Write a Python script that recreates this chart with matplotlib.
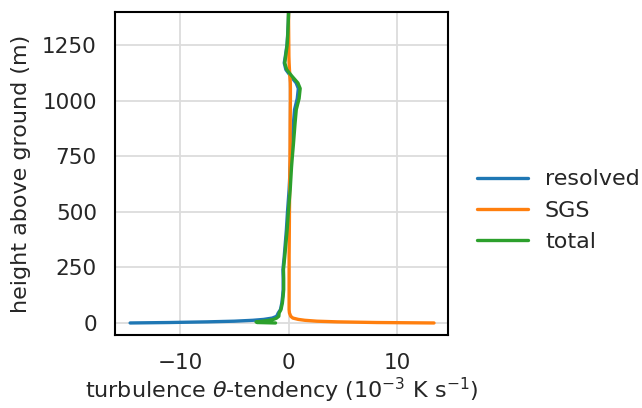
import matplotlib

matplotlib.use("Agg")

import matplotlib.pyplot as plt
import seaborn as sns

# heights (m) and tendencies (1e-3 K/s)
height = [0, 2, 5, 8, 12, 16, 22, 30, 45, 60, 90, 120, 150, 200, 240, 300,
          360, 420, 500, 600, 700, 750, 800, 900, 960, 1010, 1055, 1080,
          1110, 1140, 1170, 1200, 1250, 1300, 1350, 1400]

resolved = [-14.6, -11.0, -7.5, -5.0, -3.3, -2.3, -1.5, -1.1, -0.95, -0.75,
            -0.62, -0.55, -0.5, -0.5, -0.52, -0.4, -0.3, -0.2, -0.1, 0.05,
            0.15, 0.22, 0.3, 0.45, 0.55, 0.8, 0.9, 0.7, 0.2, -0.25, -0.4,
            -0.3, -0.15, -0.08, -0.03, 0.0]

sgs = [13.4, 8.1, 4.5, 2.6, 1.5, 0.9, 0.4, 0.2, 0.08, 0.05, 0.05, 0.05,
       0.05, 0.05, 0.05, 0.05, 0.06, 0.07, 0.08, 0.1, 0.12, 0.13, 0.14,
       0.15, 0.16, 0.17, 0.17, 0.16, 0.12, 0.08, 0.05, 0.03, 0.02, 0.01,
       0.0, 0.0]

total = [-1.2, -2.9, -3.0, -2.4, -1.8, -1.4, -1.1, -0.9, -0.87, -0.7, -0.57,
         -0.5, -0.45, -0.45, -0.47, -0.35, -0.24, -0.13, -0.02, 0.15, 0.27,
         0.35, 0.44, 0.6, 0.71, 0.97, 1.07, 0.86, 0.32, -0.17, -0.35, -0.27,
         -0.13, -0.07, -0.03, 0.0]


def main() -> None:
    sns.set_theme(style="whitegrid", font_scale=1.2)
    plt.rcParams["axes.edgecolor"] = "black"
    plt.rcParams["grid.color"] = "#dcdcdc"
    plt.rcParams["grid.linewidth"] = 1.3

    fig, ax = plt.subplots(figsize=(6.42, 4.08), dpi=100)
    fig.subplots_adjust(left=0.179, right=0.698, top=0.971, bottom=0.179)

    ax.plot(resolved, height, color="#1f77b4", lw=2.4, label="resolved")
    ax.plot(sgs, height, color="#ff7f0e", lw=2.4, label="SGS")
    ax.plot(total, height, color="#2ca02c", lw=2.4, label="total")

    ax.set_xlim(-16.0, 14.7)
    ax.set_ylim(-54, 1400)
    ax.set_xticks([-10, 0, 10])
    ax.set_yticks([0, 250, 500, 750, 1000, 1250])
    ax.tick_params(labelsize=15.5, pad=7)
    ax.set_xlabel(r"turbulence $\theta$-tendency ($10^{-3}$ K s$^{-1}$)",
                  fontsize=16, labelpad=2)
    ax.set_ylabel("height above ground (m)", fontsize=16, labelpad=8)
    for spine in ax.spines.values():
        spine.set_linewidth(1.5)

    ax.legend(loc="center left", bbox_to_anchor=(1.027, 0.385), frameon=False,
              fontsize=16, handlelength=2.3, handletextpad=0.75)

    fig.savefig("out.png", dpi=100)
    plt.close(fig)


if __name__ == "__main__":
    main()
